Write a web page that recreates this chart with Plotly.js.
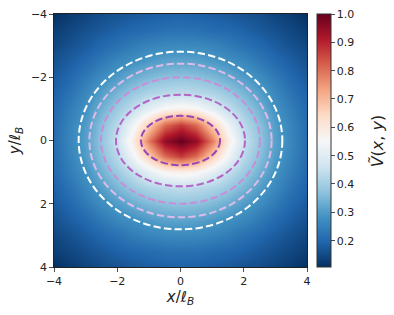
<!DOCTYPE html>
<html>
<head>
<meta charset="utf-8">
<script src="https://cdn.plot.ly/plotly-3.0.1.min.js"></script>
<style>html,body{margin:0;padding:0;background:#fff;}#plot{width:394px;height:315px;}</style>
</head>
<body>
<div id="plot"></div>
<script>
// grid coordinates (x/l_B, y/l_B)
const xVals = [-4,-3.5,-3,-2.5,-2,-1.5,-1,-0.5,0,0.5,1,1.5,2,2.5,3,3.5,4];
const yVals = [-4,-3.5,-3,-2.5,-2,-1.5,-1,-0.5,0,0.5,1,1.5,2,2.5,3,3.5,4];
// V(x,y) values, rows follow yVals
const rowYm40 = [0.107,0.127,0.14,0.155,0.164,0.175,0.182,0.186,0.19,0.186,0.182,0.175,0.164,0.155,0.14,0.127,0.107];
const rowYm35 = [0.13,0.145,0.161,0.175,0.19,0.201,0.209,0.218,0.22,0.218,0.209,0.201,0.19,0.175,0.161,0.145,0.13];
const rowYm30 = [0.145,0.163,0.182,0.201,0.22,0.241,0.257,0.266,0.268,0.266,0.257,0.241,0.22,0.201,0.182,0.163,0.145];
const rowYm25 = [0.162,0.183,0.205,0.233,0.261,0.279,0.298,0.312,0.315,0.312,0.298,0.279,0.261,0.233,0.205,0.183,0.162];
const rowYm20 = [0.177,0.202,0.236,0.27,0.3,0.33,0.353,0.368,0.373,0.368,0.353,0.33,0.3,0.27,0.236,0.202,0.177];
const rowYm15 = [0.19,0.222,0.264,0.304,0.346,0.385,0.415,0.43,0.44,0.43,0.415,0.385,0.346,0.304,0.264,0.222,0.19];
const rowYm10 = [0.201,0.242,0.284,0.337,0.39,0.445,0.507,0.565,0.58,0.565,0.507,0.445,0.39,0.337,0.284,0.242,0.201];
const rowYm05 = [0.207,0.255,0.303,0.365,0.43,0.535,0.67,0.81,0.87,0.81,0.67,0.535,0.43,0.365,0.303,0.255,0.207];
const rowY00  = [0.21,0.26,0.31,0.375,0.455,0.59,0.79,0.95,1.0,0.95,0.79,0.59,0.455,0.375,0.31,0.26,0.21];
const rowYp05 = [0.207,0.255,0.303,0.365,0.43,0.535,0.67,0.81,0.87,0.81,0.67,0.535,0.43,0.365,0.303,0.255,0.207];
const rowYp10 = [0.201,0.242,0.284,0.337,0.39,0.445,0.507,0.565,0.58,0.565,0.507,0.445,0.39,0.337,0.284,0.242,0.201];
const rowYp15 = [0.19,0.222,0.264,0.304,0.346,0.385,0.415,0.43,0.44,0.43,0.415,0.385,0.346,0.304,0.264,0.222,0.19];
const rowYp20 = [0.177,0.202,0.236,0.27,0.3,0.33,0.353,0.368,0.373,0.368,0.353,0.33,0.3,0.27,0.236,0.202,0.177];
const rowYp25 = [0.162,0.183,0.205,0.233,0.261,0.279,0.298,0.312,0.315,0.312,0.298,0.279,0.261,0.233,0.205,0.183,0.162];
const rowYp30 = [0.145,0.163,0.182,0.201,0.22,0.241,0.257,0.266,0.268,0.266,0.257,0.241,0.22,0.201,0.182,0.163,0.145];
const rowYp35 = [0.13,0.145,0.161,0.175,0.19,0.201,0.209,0.218,0.22,0.218,0.209,0.201,0.19,0.175,0.161,0.145,0.13];
const rowYp40 = [0.107,0.127,0.14,0.155,0.164,0.175,0.182,0.186,0.19,0.186,0.182,0.175,0.164,0.155,0.14,0.127,0.107];
const zGrid = [rowYm40,rowYm35,rowYm30,rowYm25,rowYm20,rowYm15,rowYm10,rowYm05,rowY00,
               rowYp05,rowYp10,rowYp15,rowYp20,rowYp25,rowYp30,rowYp35,rowYp40];

// dashed ellipse contours: semi-axes along x and y
const ellipseA = [1.25, 2.04, 2.51, 2.88, 3.22];
const ellipseB = [0.78, 1.45, 2.00, 2.43, 2.81];
const ellipseColors = ['#9646b6', '#b366c8', '#c98dd9', '#dcbbe9', '#ffffff'];

const axisTicks = [-4, -2, 0, 2, 4];
const axisTickText = ['\u22124', '\u22122', '0', '2', '4'];
const cbTicks = [0.2, 0.3, 0.4, 0.5, 0.6, 0.7, 0.8, 0.9, 1.0];
const cbTickText = ['0.2','0.3','0.4','0.5','0.6','0.7','0.8','0.9','1.0'];

const rdbuR = [
  [0.0, '#053061'], [0.1, '#2166ac'], [0.2, '#4393c3'], [0.3, '#92c5de'],
  [0.4, '#d1e5f0'], [0.5, '#f7f7f7'], [0.6, '#fddbc7'], [0.7, '#f4a582'],
  [0.8, '#d6604d'], [0.9, '#b2182b'], [1.0, '#67001f']
];

const font = "DejaVu Sans, sans-serif";

const trace = {
  type: 'heatmap',
  x: xVals, y: yVals, z: zGrid,
  zsmooth: 'best',
  colorscale: rdbuR,
  zmin: 0.107, zmax: 1.0,
  colorbar: {
    x: 1.0395, xanchor: 'left', xpad: 0,
    y: 0.5, yanchor: 'middle', ypad: 0,
    len: 1, lenmode: 'fraction',
    thickness: 14,
    outlinewidth: 1, outlinecolor: '#333',
    ticks: 'outside', ticklen: 3.5, tickwidth: 0.8, tickcolor: '#222',
    tickvals: cbTicks, ticktext: cbTickText,
    tickfont: {family: font, size: 11, color: '#222'}
  },
  hoverinfo: 'skip'
};

const shapes = ellipseA.map((a, i) => ({
  type: 'circle', xref: 'x', yref: 'y',
  x0: -a, x1: a, y0: -ellipseB[i], y1: ellipseB[i],
  line: {color: ellipseColors[i], width: 2, dash: '7.4px,3.2px'},
  layer: 'above'
}));

const layout = {
  width: 394, height: 315,
  margin: {l: 54, r: 87, t: 14, b: 48},
  paper_bgcolor: '#fff', plot_bgcolor: '#fff',
  font: {family: font, color: '#222'},
  xaxis: {
    range: [-4, 4], tickvals: axisTicks, ticktext: axisTickText,
    ticks: 'outside', ticklen: 3.5, tickwidth: 0.8, tickcolor: '#222',
    showline: true, mirror: true, linecolor: '#222', linewidth: 1.2,
    showgrid: false, zeroline: false,
    tickfont: {family: font, size: 11, color: '#222'},
    title: {text: '<i>x</i>/<i>ℓ</i><sub><i>B</i></sub>', font: {family: font, size: 15, color: '#222'}, standoff: 3}
  },
  yaxis: {
    range: [4, -4], tickvals: axisTicks, ticktext: axisTickText,
    ticks: 'outside', ticklen: 3.5, tickwidth: 0.8, tickcolor: '#222',
    showline: true, mirror: true, linecolor: '#222', linewidth: 1.2,
    showgrid: false, zeroline: false,
    tickfont: {family: font, size: 11, color: '#222'},
    title: {text: '<i>y</i>/<i>ℓ</i><sub><i>B</i></sub>', font: {family: font, size: 15, color: '#222'}, standoff: 6}
  },
  shapes: shapes,
  annotations: [{
    xref: 'paper', yref: 'paper', x: 1.28, y: 0.5,
    xanchor: 'center', yanchor: 'middle', textangle: -90, showarrow: false,
    text: '<i>Ṽ</i>(<i>x</i>, <i>y</i>)',
    font: {family: font, size: 16, color: '#222'}
  }]
};

Plotly.newPlot('plot', [trace], layout, {displayModeBar: false, staticPlot: true});
</script>
</body>
</html>
